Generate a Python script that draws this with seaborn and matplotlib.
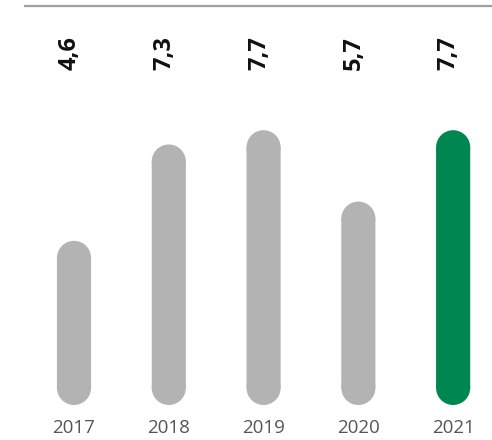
import matplotlib
matplotlib.use("Agg")
import matplotlib.pyplot as plt
from matplotlib.patches import Ellipse, Rectangle
import seaborn as sns
import pandas as pd

years = ["2017", "2018", "2019", "2020", "2021"]
values = [4.6, 7.3, 7.7, 5.7, 7.7]
labels = ["4,6", "7,3", "7,7", "5,7", "7,7"]
colors = ["#b3b3b3", "#b3b3b3", "#b3b3b3", "#b3b3b3", "#008751"]

sns.set_theme(style="white")
plt.rcParams["font.family"] = ["Open Sans", "DejaVu Sans"]

W, H = 492, 440
fig = plt.figure(figsize=(W / 100, H / 100), dpi=100)
ax = fig.add_axes([25 / W, 1 - 405 / H, 1 - 25 / W, (405 - 6) / H])

df = pd.DataFrame({"year": years, "value": values})
sns.barplot(data=df, x="year", y="value", hue="year", palette=colors,
            legend=False, width=0.36, saturation=1, ax=ax)

ax.set_xlim(-0.517, 4.41)
ax.set_ylim(0, 11.18)

for s in ["left", "right", "bottom"]:
    ax.spines[s].set_visible(False)
ax.spines["top"].set_color("#a0a0a0")
ax.spines["top"].set_linewidth(1.6)
ax.set_yticks([])
ax.set_xlabel("")
ax.set_ylabel("")
ax.tick_params(axis="x", length=0, pad=10, labelsize=13.5, labelcolor="#555555")

fig.canvas.draw()
p0 = ax.transData.transform((0, 0))
p1 = ax.transData.transform((1, 1))
px_x = p1[0] - p0[0]
px_y = p1[1] - p0[1]

patches = list(ax.patches)
for p in patches:
    x, y = p.get_x(), p.get_y()
    w, h = p.get_width(), p.get_height()
    fc = p.get_facecolor()
    p.set_visible(False)
    ry = (w / 2) * px_x / px_y
    ax.add_patch(Rectangle((x, y + ry), w, h - 2 * ry, facecolor=fc,
                           edgecolor="none", linewidth=0, zorder=3,
                           snap=False))
    for cy in (y + ry, y + h - ry):
        ax.add_patch(Ellipse((x + w / 2, cy), w, 2 * ry, facecolor=fc,
                             edgecolor="none", linewidth=0, zorder=3,
                             snap=False))

for i, lab in enumerate(labels):
    ax.text(i - 0.045, 9.86, lab, rotation=90, ha="center", va="center",
            fontsize=17, fontweight="bold", color="#111111")

fig.savefig("out.png", dpi=100)
